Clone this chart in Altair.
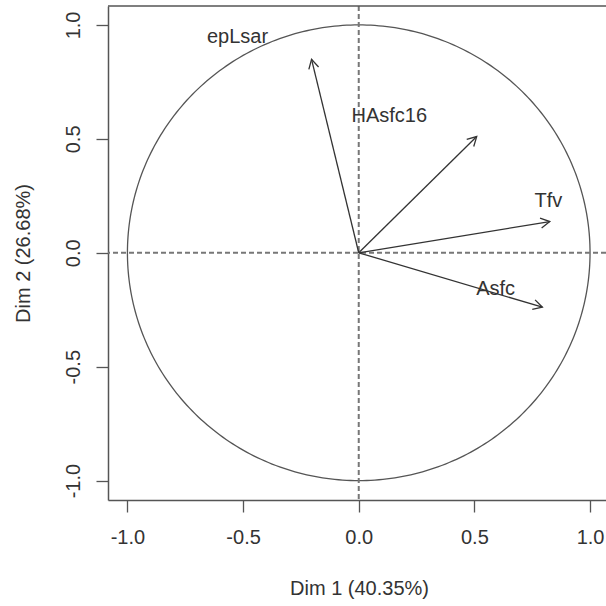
import altair as alt
import numpy as np
import pandas as pd

# variables (arrow tips on Dim 1 / Dim 2)
var_names = ["epLsar", "HAsfc16", "Tfv", "Asfc"]
dim1 = [-0.204, 0.510, 0.826, 0.794]
dim2 = [0.849, 0.510, 0.137, -0.239]

# label positions
label_x = [-0.524, 0.132, 0.820, 0.592]
label_y = [0.949, 0.600, 0.227, -0.157]

x_ticks = [-1.0, -0.5, 0.0, 0.5, 1.0]
y_ticks = [-1.0, -0.5, 0.0, 0.5, 1.0]

X_DOM = [-1.084, 1.069]
Y_DOM = [-1.085, 1.083]
W, H = 498, 494
FONT = "Liberation Sans"
INK = "#333333"
FS = 20

px_x = W / (X_DOM[1] - X_DOM[0])
px_y = H / (Y_DOM[1] - Y_DOM[0])

arrows = pd.DataFrame({
    "name": var_names,
    "x": dim1,
    "y": dim2,
    "x0": [0.0] * len(var_names),
    "y0": [0.0] * len(var_names),
})
arrows["ang"] = (np.degrees(np.arctan2(-arrows["y"] * px_y, arrows["x"] * px_x)) + 360) % 360

labels = pd.DataFrame({"name": var_names, "lx": label_x, "ly": label_y})

t = np.linspace(0, 2 * np.pi, 361)
circle = pd.DataFrame({"cx": np.cos(t), "cy": np.sin(t), "i": np.arange(len(t))})

xs = alt.Scale(domain=X_DOM, nice=False, zero=False)
ys = alt.Scale(domain=Y_DOM, nice=False, zero=False)

LBL = "(datum.value < 0 ? '-' : '') + format(abs(datum.value), '.1f')"

x_axis = alt.Axis(
    values=x_ticks, labelExpr=LBL, title="Dim 1 (40.35%)", grid=False,
    tickSize=12, tickColor="#555", tickWidth=1.3, domainColor="#555", domainWidth=1.5,
    labelFont=FONT, labelFontSize=FS, labelColor=INK, labelPadding=25,
    labelBaseline="middle", labelFlush=False,
    titleFont=FONT, titleFontSize=FS, titleColor=INK, titleFontWeight="normal",
    titleX=251, titleY=88, titleBaseline="middle", titleAlign="center",
)
y_axis = alt.Axis(
    values=y_ticks, labelExpr=LBL, title="Dim 2 (26.68%)", grid=False,
    tickSize=12, tickColor="#555", tickWidth=1.3, domainColor="#555", domainWidth=1.5,
    labelFont=FONT, labelFontSize=FS, labelColor=INK, labelPadding=23,
    labelAngle=270, labelAlign="center", labelBaseline="middle", labelFlush=False,
    titleFont=FONT, titleFontSize=FS, titleColor=INK, titleFontWeight="normal",
    titleX=-85, titleY=247, titleBaseline="middle", titleAlign="center", titleAngle=270,
)

circ = alt.Chart(circle).mark_line(color="#555", strokeWidth=1.3, clip=True).encode(
    x=alt.X("cx:Q", scale=xs, axis=x_axis),
    y=alt.Y("cy:Q", scale=ys, axis=y_axis),
    order=alt.Order("i:Q"),
)

hline = alt.Chart(pd.DataFrame({"v": [0.0]})).mark_rule(
    color="#777", strokeWidth=2, strokeDash=[5, 3]).encode(y=alt.Y("v:Q", scale=ys))
vline = alt.Chart(pd.DataFrame({"v": [0.0]})).mark_rule(
    color="#777", strokeWidth=2, strokeDash=[5, 3]).encode(x=alt.X("v:Q", scale=xs))

topline = alt.Chart(pd.DataFrame({"v": [0]})).mark_rule(color="#555", strokeWidth=1.5).encode(
    x=alt.value(0), x2=alt.value(W), y=alt.value(0))

shafts = alt.Chart(arrows).mark_rule(color=INK, strokeWidth=1.3).encode(
    x=alt.X("x0:Q", scale=xs), y=alt.Y("y0:Q", scale=ys),
    x2="x:Q", y2="y:Q")

heads = alt.Chart(arrows).mark_point(
    shape="M -1 -0.55 L 0 0 L -1 0.55", filled=False, size=330,
    stroke=INK, strokeWidth=1.3, opacity=1).encode(
    x=alt.X("x:Q", scale=xs), y=alt.Y("y:Q", scale=ys),
    angle=alt.Angle("ang:Q", scale=None))

texts = alt.Chart(labels).mark_text(
    font=FONT, fontSize=FS, color=INK, align="center", baseline="middle").encode(
    x=alt.X("lx:Q", scale=xs), y=alt.Y("ly:Q", scale=ys), text="name:N")

chart = alt.layer(circ, hline, vline, shafts, heads, texts, topline).properties(
    width=W, height=H,
    autosize=alt.AutoSizeParams(type="none"),
    padding={"left": 108, "top": 6, "right": 0, "bottom": 106},
    background="white",
).configure_view(stroke=None)

chart.save("out.html", embed_options={"renderer": "svg", "actions": False})
